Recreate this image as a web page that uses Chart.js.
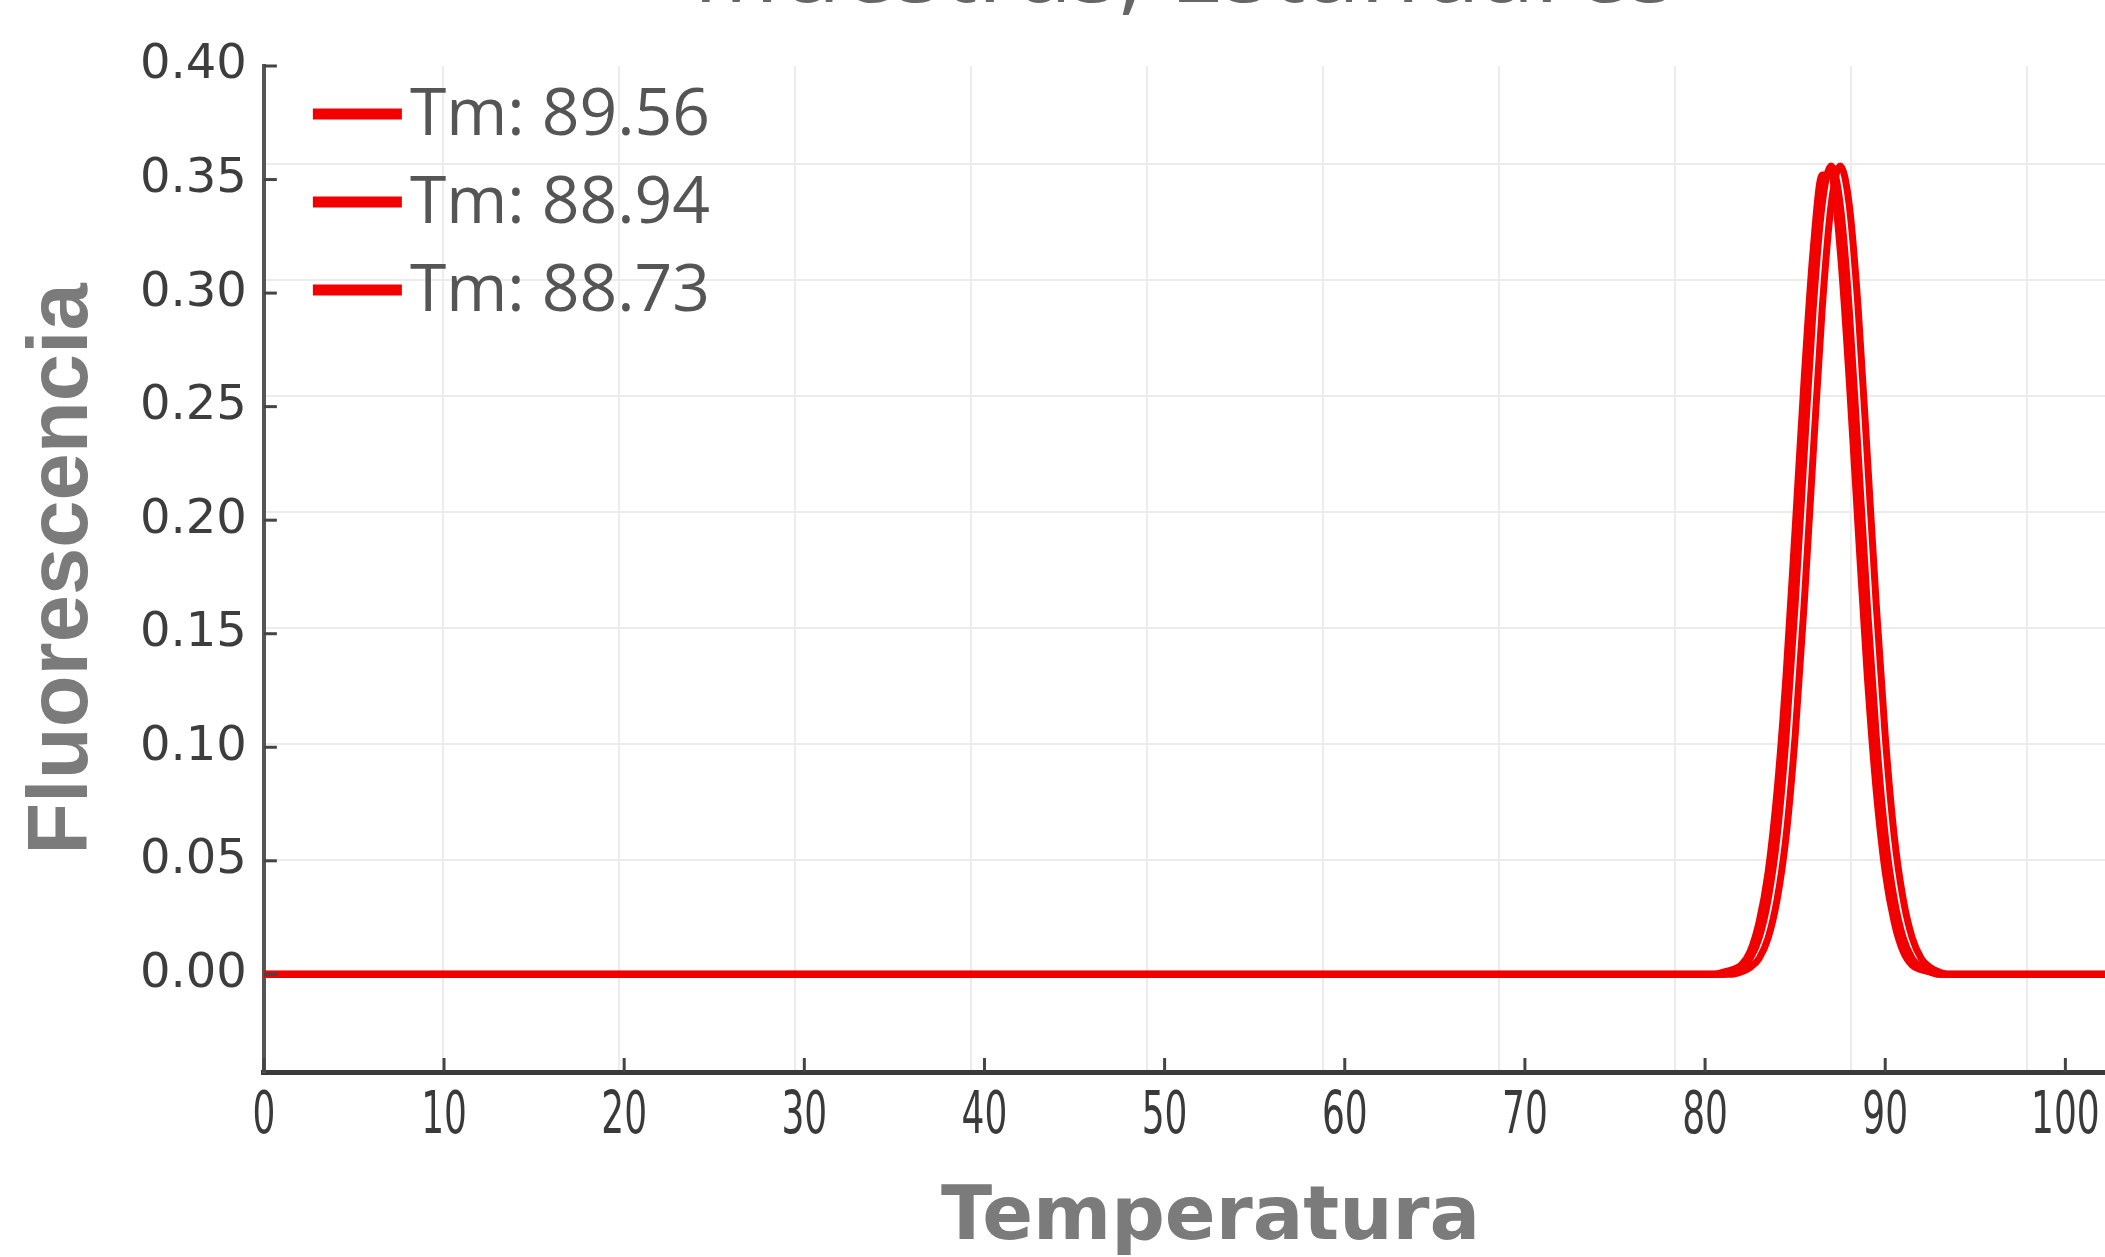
<!DOCTYPE html>
<html>
<head>
<meta charset="utf-8">
<script src="https://cdn.jsdelivr.net/npm/chart.js@4.4.1/dist/chart.umd.min.js"></script>
<style>
  html, body { margin: 0; padding: 0; background: #fff; overflow: hidden; }
  #grafica { display: block; margin-top: -78px; }
</style>
</head>
<body>
<canvas id="grafica" width="2105" height="1335"></canvas>
<script>
const temperatura = [0, 80, 80.5, 81, 81.5, 82, 82.5, 83, 83.5, 84, 84.5, 85, 85.5, 86, 86.5, 87, 87.5,
    88, 88.5, 89, 89.5, 90, 90.5, 91, 91.5, 92, 92.5, 93, 93.5, 94, 94.5, 95, 102.2];

const etiquetas = ['Tm: 89.56', 'Tm: 88.94', 'Tm: 88.73'];

const fluorTm8956 = [0, 0, 0, 0, 0, 0.001, 0.003, 0.007, 0.016, 0.033, 0.061, 0.105, 0.163, 0.229, 0.293, 0.339, 0.356,
    0.339, 0.293, 0.229, 0.163, 0.105, 0.061, 0.033, 0.016, 0.007, 0.003, 0.001, 0, 0, 0, 0, 0];
const fluorTm8894 = [0, 0, 0, 0, 0.001, 0.003, 0.007, 0.016, 0.033, 0.061, 0.105, 0.163, 0.229, 0.293, 0.339, 0.356, 0.339,
    0.293, 0.229, 0.163, 0.105, 0.061, 0.033, 0.016, 0.007, 0.003, 0.001, 0, 0, 0, 0, 0, 0];
const fluorTm8873 = [0, 0, 0, 0.001, 0.002, 0.004, 0.010, 0.023, 0.045, 0.081, 0.132, 0.196, 0.262, 0.319, 0.352, 0.352, 0.319,
    0.262, 0.196, 0.132, 0.081, 0.045, 0.023, 0.010, 0.004, 0.002, 0.001, 0, 0, 0, 0, 0, 0];

const ticksX = [0, 10, 20, 30, 40, 50, 60, 70, 80, 90, 100];
const ticksY = [0, 0.05, 0.10, 0.15, 0.20, 0.25, 0.30, 0.35, 0.40];
const rejillaX = [10, 20, 30, 40, 50, 60, 70, 80, 90, 100];
const rejillaY = [0.05, 0.10, 0.15, 0.20, 0.25, 0.30, 0.35];

const series = [fluorTm8956, fluorTm8894, fluorTm8873];
const rojo = '#f20000';

// pasar a puntos {x, y}
const datasets = series.map((valores, i) => ({
    label: etiquetas[i],
    data: valores.map((v, j) => ({ x: temperatura[j], y: v })),
    borderColor: rojo,
    backgroundColor: rojo,
    borderWidth: 7,
    pointRadius: 0,
    tension: 0.4,
    cubicInterpolationMode: 'monotone',
    xAxisID: 'x',
    yAxisID: 'y'
}));

// Leyenda dentro del area del grafico
const leyendaTm = {
    id: 'leyendaTm',
    afterDatasetsDraw(chart) {
        const { ctx, chartArea } = chart;
        ctx.save();
        chart.data.datasets.forEach((ds, i) => {
            const y = chartArea.top + 48 + i * 88;
            ctx.strokeStyle = ds.borderColor;
            ctx.lineWidth = 11;
            ctx.lineCap = 'butt';
            ctx.beginPath();
            ctx.moveTo(chartArea.left + 49, y);
            ctx.lineTo(chartArea.left + 138, y);
            ctx.stroke();
            ctx.fillStyle = '#555';
            ctx.font = '66px "Open Sans"';
            ctx.textBaseline = 'alphabetic';
            ctx.textAlign = 'left';
            ctx.fillText(ds.label, chartArea.left + 146, y + 21);
        });
        ctx.restore();
    }
};

// Marcas hacia dentro y etiquetas estrechas del eje X
const marcasInternas = {
    id: 'marcasInternas',
    afterDraw(chart) {
        const { ctx, chartArea, scales } = chart;
        ctx.save();
        ctx.strokeStyle = '#444';
        ctx.lineWidth = 3;
        scales.x.ticks.forEach(t => {
            const px = scales.x.getPixelForValue(t.value);
            ctx.beginPath();
            ctx.moveTo(px, chartArea.bottom);
            ctx.lineTo(px, chartArea.bottom - 14);
            ctx.stroke();
        });
        scales.y.ticks.forEach(t => {
            const py = scales.y.getPixelForValue(t.value);
            ctx.beginPath();
            ctx.moveTo(chartArea.left, py);
            ctx.lineTo(chartArea.left + 13, py);
            ctx.stroke();
        });
        ctx.fillStyle = '#3a3a3a';
        ctx.font = '58px "DejaVu Sans"';
        ctx.textAlign = 'center';
        ctx.textBaseline = 'alphabetic';
        scales.x.ticks.forEach(t => {
            const px = scales.x.getPixelForValue(t.value);
            ctx.save();
            ctx.translate(px, chartArea.bottom + 61);
            ctx.scale(0.62, 1);
            ctx.fillText(String(t.value), 0, 0);
            ctx.restore();
        });
        ctx.restore();
    }
};

new Chart(document.getElementById('grafica'), {
    type: 'line',
    data: { datasets: datasets },
    plugins: [leyendaTm, marcasInternas],
    options: {
        responsive: false,
        animation: false,
        devicePixelRatio: 1,
        layout: { padding: 0 },
        scales: {
            x: {
                type: 'linear',
                position: 'bottom',
                min: 0,
                max: 102.2,
                afterBuildTicks: s => { s.ticks = ticksX.map(v => ({ value: v })); },
                grid: { display: false, drawTicks: false, tickLength: 0 },
                border: { display: true, color: '#3a3a3a', width: 5 },
                ticks: {
                    padding: 8,
                    color: 'rgba(0,0,0,0)', // se dibujan estrechas en el plugin
                    font: { family: 'DejaVu Sans', size: 30, lineHeight: '65px' },
                    maxRotation: 0,
                    callback: v => v
                },
                title: {
                    display: true,
                    text: '  Temperatura',
                    color: '#7b7b7b',
                    font: { family: 'DejaVu Sans', weight: 'bold', size: 75, lineHeight: 1 },
                    padding: { top: 29, bottom: 0 }
                }
            },
            y: {
                type: 'linear',
                position: 'left',
                min: -0.043,
                max: 0.40,
                afterBuildTicks: s => { s.ticks = ticksY.map(v => ({ value: v })); },
                grid: { display: false, drawTicks: false, tickLength: 0 },
                border: { display: true, color: '#555', width: 4 },
                ticks: {
                    padding: 17,
                    color: '#3d3d3d',
                    font: { family: 'DejaVu Sans', size: 48 },
                    callback: v => v.toFixed(2)
                },
                title: {
                    display: true,
                    text: 'Fluorescencia',
                    color: '#7b7b7b',
                    font: { family: 'Liberation Sans', weight: 'bold', size: 85, lineHeight: 1 },
                    padding: { top: 21, bottom: 17 }
                }
            },
            // rejilla de la figura original (algo desplazada respecto a las marcas)
            x2: {
                type: 'linear',
                position: 'bottom',
                min: -0.17,
                max: 104.43,
                afterBuildTicks: s => { s.ticks = rejillaX.map(v => ({ value: v })); },
                grid: { color: '#ececec', lineWidth: 2, drawTicks: false, tickLength: 0 },
                border: { display: false },
                ticks: { display: false }
            },
            y2: {
                type: 'linear',
                position: 'left',
                min: -0.0412,
                max: 0.3922,
                afterBuildTicks: s => { s.ticks = rejillaY.map(v => ({ value: v })); },
                grid: { color: '#ececec', lineWidth: 2, drawTicks: false, tickLength: 0 },
                border: { display: false },
                ticks: { display: false }
            }
        },
        plugins: {
            legend: { display: false },
            tooltip: { enabled: false },
            title: {
                display: true,
                text: 'Muestras, Estándares',
                color: '#666',
                fullSize: false,
                font: { family: 'Open Sans', size: 98, weight: 'normal', lineHeight: 1 },
                padding: { top: 3, bottom: 43 }
            }
        }
    }
});
</script>
</body>
</html>
